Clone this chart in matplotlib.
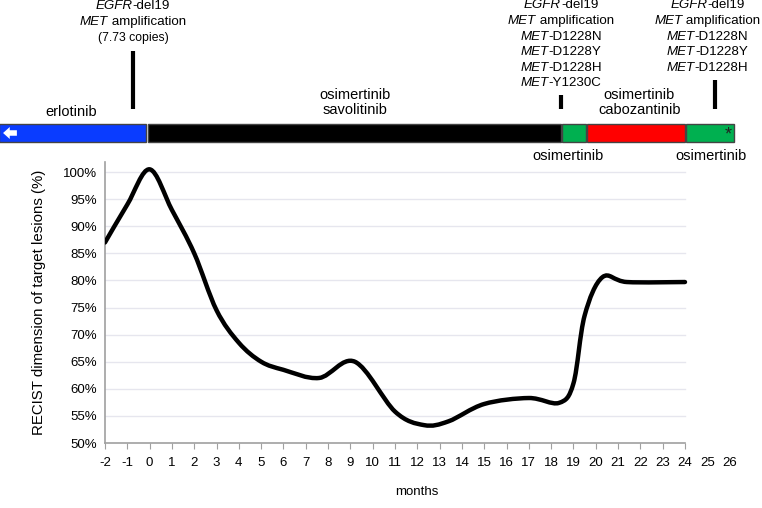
import matplotlib
matplotlib.use("Agg")
import matplotlib.pyplot as plt
from matplotlib.path import Path
from matplotlib.patches import PathPatch, Rectangle, FancyArrow
import numpy as np

plt.rcParams['font.family'] = ['Liberation Sans', 'DejaVu Sans']

# ---- data ----
months = [-2, -1, 0, 1, 2, 3, 4, 5, 6, 7.6, 9.2, 11, 12.3, 13.4, 15, 17, 18.35, 19.0, 19.5, 20.3, 21.4, 24]
recist = [87, 94, 100.5, 93, 85, 74.5, 68.5, 65, 63.5, 62, 65, 55.8, 53.3, 54, 57.2, 58.3, 57.4, 61, 73.5, 80.6, 79.7, 79.7]

xticks = list(range(-2, 27))
yticks = [50, 55, 60, 65, 70, 75, 80, 85, 90, 95, 100]

# treatment periods (start, end in months)
treat_start = [-6.75, -0.05, 18.5, 19.6, 24.05]
treat_end = [-0.15, 18.45, 19.55, 24.0, 26.2]
treat_color = ['#0a3cff', '#000000', '#00b050', '#ff0000', '#00b050']

mutation_months = [-0.75, 18.45, 25.35]

W, H = 762, 508
fig = plt.figure(figsize=(W / 100, H / 100), dpi=100)

# main axes
x0, x1 = 105, 729.6
yb, yt = 443, 162
ax = fig.add_axes([x0 / W, 1 - yb / H, (x1 - x0) / W, (yb - yt) / H])
ax.set_xlim(-2, 26)
ax.set_ylim(50, 101.85)

# smoothed line (Catmull-Rom as cubic Bezier through the data points)
P = np.column_stack([months, recist]).astype(float)
n = len(P)
verts = [tuple(P[0])]
codes = [Path.MOVETO]
for i in range(n - 1):
    p0 = P[i - 1] if i > 0 else P[i]
    p1 = P[i]
    p2 = P[i + 1]
    p3 = P[i + 2] if i + 2 < n else P[i + 1]
    c1 = p1 + (p2 - p0) / 6
    c2 = p2 - (p3 - p1) / 6
    verts += [tuple(c1), tuple(c2), tuple(p2)]
    codes += [Path.CURVE4] * 3
ax.add_patch(PathPatch(Path(verts, codes), fill=False, lw=3.2, color='black',
                       capstyle='round', joinstyle='round', zorder=3))

for yv in yticks[1:]:
    ax.plot([-2, 24], [yv, yv], color='#e6e6ee', lw=1, zorder=1)

for s in ['top', 'right']:
    ax.spines[s].set_visible(False)
for s in ['left', 'bottom']:
    ax.spines[s].set_color('#a0a0a0')
    ax.spines[s].set_linewidth(1.2)
ax.spines['bottom'].set_bounds(-2, 24)

ax.set_xticks(xticks)
ax.set_xticklabels([str(v) for v in xticks], fontsize=9.5)
ax.set_yticks(yticks)
ax.set_yticklabels([f"{v}%" for v in yticks], fontsize=9.5)
ax.tick_params(axis='x', direction='out', length=4, color='#a0a0a0', pad=6)
ax.tick_params(axis='y', length=0, pad=6)
for t in ax.xaxis.get_major_ticks():
    if t.get_loc() > 24:
        t.tick1line.set_visible(False)

ax.set_ylabel('RECIST dimension of target lesions (%)', fontsize=10.8, labelpad=12)
ax.set_xlabel('months', fontsize=9.5, labelpad=12)

# header axes in pixel coordinates (y from top)
hx = fig.add_axes([x0 / W, 1 - 160 / H, (x1 - x0) / W, 160 / H])
hx.set_xlim(-2, 26)
hx.set_ylim(160, 0)
hx.axis('off')

bar_top, bar_bot = 124, 141.7
for s, e, c in zip(treat_start, treat_end, treat_color):
    hx.add_patch(Rectangle((s, bar_top), e - s, bar_bot - bar_top, facecolor=c,
                           edgecolor='#444444', lw=1.0, clip_on=False))

# white arrow in erlotinib bar
hx.add_patch(FancyArrow(-5.95, 133, -0.62, 0, width=5.5, head_width=12, head_length=0.3,
                        length_includes_head=True, color='white', lw=0, clip_on=False,
                        transform=hx.transData))
hx.text(26.1, 134.5, '*', ha='right', va='center', fontsize=13, color='#222222')

# mutation markers
hx.plot([mutation_months[0]] * 2, [51, 109], color='black', lw=3, solid_capstyle='butt')
hx.plot([mutation_months[1]] * 2, [95, 109], color='black', lw=3, solid_capstyle='butt')
hx.plot([mutation_months[2]] * 2, [80, 109], color='black', lw=3, solid_capstyle='butt')

fs = 10.5
fm = 9.6


def mixed(xm, y, italic, normal, size=fm):
    # italic part followed by normal part, centred on xm
    r = fig.canvas.get_renderer()
    ti = hx.text(0, 0, italic, fontsize=size, style='italic')
    tn = hx.text(0, 0, normal, fontsize=size)
    wi = ti.get_window_extent(r).width
    wn = tn.get_window_extent(r).width
    ti.remove(); tn.remove()
    xpix = hx.transData.transform((xm, y))
    left = xpix[0] - (wi + wn) / 2
    inv = hx.transData.inverted()
    xl = inv.transform((left, xpix[1]))[0]
    xn = inv.transform((left + wi, xpix[1]))[0]
    hx.text(xl, y, italic, fontsize=size, style='italic', ha='left', va='center', clip_on=False)
    hx.text(xn, y, normal, fontsize=size, ha='left', va='center', clip_on=False)


xa = mutation_months[0]
mixed(xa, 6, 'EGFR', '-del19')
mixed(xa, 22, 'MET', ' amplification')
hx.text(xa, 37.5, '(7.73 copies)', fontsize=8.8, ha='center', va='center')

xb = mutation_months[1]
lines_b = [('EGFR', '-del19'), ('MET', ' amplification'), ('MET', '-D1228N'),
           ('MET', '-D1228Y'), ('MET', '-D1228H'), ('MET', '-Y1230C')]
for k, (a, b) in enumerate(lines_b):
    mixed(xb, 5.5 + k * 15.6, a, b)

xc = 25.0
for k, (a, b) in enumerate(lines_b[:5]):
    mixed(xc, 5.5 + k * 15.6, a, b)

hx.text(-3.5, 112, 'erlotinib', fontsize=fs, ha='center', va='center', clip_on=False)
hx.text(9.2, 95, 'osimertinib', fontsize=fs, ha='center', va='center')
hx.text(9.2, 110.5, 'savolitinib', fontsize=fs, ha='center', va='center')
hx.text(21.95, 95, 'osimertinib', fontsize=fs, ha='center', va='center')
hx.text(21.95, 110.5, 'cabozantinib', fontsize=fs, ha='center', va='center')
hx.text(18.75, 156, 'osimertinib', fontsize=fs, ha='center', va='center', clip_on=False)
hx.text(25.15, 156, 'osimertinib', fontsize=fs, ha='center', va='center', clip_on=False)

fig.savefig('out.png', dpi=100)
